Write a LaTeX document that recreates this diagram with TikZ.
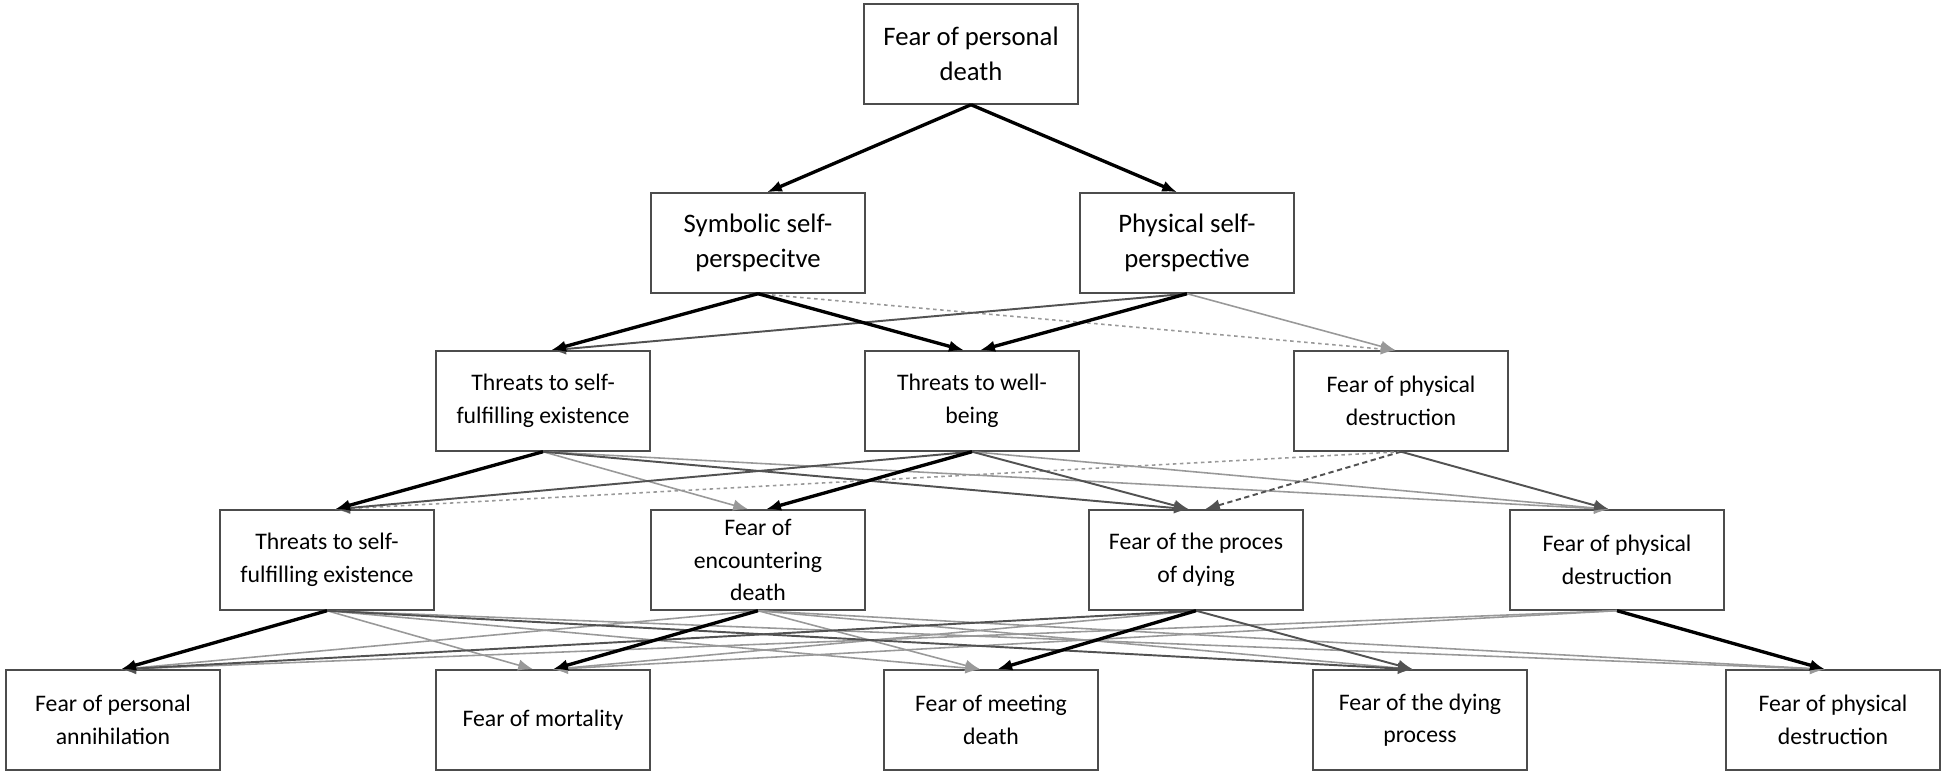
\documentclass[tikz,border=0pt]{standalone}
\usepackage{fontspec}
\setmainfont{Carlito}
\usetikzlibrary{arrows.meta}
\newcommand{\breite}{4.28cm}
\newcommand{\altura}{2cm}

\begin{document}
\begin{tikzpicture}[x=0.2mm,y=-0.2mm]
\tikzstyle{box}=[draw=black!70, line width=0.8pt, fill=white, rectangle, align=center, minimum width=\breite, minimum height=\altura, inner sep=2pt]
\tikzstyle{big}=[box, font=\fontsize{15.2}{20}\selectfont]
\tikzstyle{small}=[box, font=\fontsize{13.5}{18.5}\selectfont]
\tikzstyle{strong}=[-{Latex[length=8.5pt,width=6.5pt]}, line width=1.9pt, black]
\tikzstyle{medium}=[-{Latex[length=8.5pt,width=6.5pt]}, line width=1.1pt, black!68]
\tikzstyle{weak}=[-{Latex[length=8.5pt,width=6.5pt]}, line width=0.9pt, black!40]
\tikzstyle{weakdots}=[weak, dash pattern=on 2pt off 2pt]
\tikzstyle{mediumdots}=[medium, dash pattern=on 3pt off 2pt]
\useasboundingbox (0,0) rectangle (1946,776);

% level 1
\node[big] (personal) at (971,54) {Fear of personal\\death};
% level 2
\node[big] (symbolic) at (758,243) {Symbolic self-\\perspecitve};
\node[big] (physical) at (1187,243) {Physical self-\\perspective};
% level 3
\node[small] (threatsA) at (543,401) {Threats to self-\\fulfilling existence};
\node[small] (wellbeing) at (972,401) {Threats to well-\\being};
\node[small] (destructA) at (1401,401) {Fear of physical\\destruction};
% level 4
\node[small] (threatsB) at (327,560) {Threats to self-\\fulfilling existence};
\node[small] (encounter) at (758,560) {Fear of\\encountering\\death};
\node[small] (process) at (1196,560) {Fear of the proces\\of dying};
\node[small] (destructB) at (1617,560) {Fear of physical\\destruction};
% level 5
\node[small] (annihil) at (113,720) {Fear of personal\\annihilation};
\node[small] (mortal) at (543,720) {Fear of mortality};
\node[small] (meeting) at (991,720) {Fear of meeting\\death};
\node[small] (dying) at (1420,720) {Fear of the dying\\process};
\node[small] (destructC) at (1833,720) {Fear of physical\\destruction};

% level 1 -> level 2
\draw[strong] (personal.south) -- (symbolic.80);
\draw[strong] (personal.south) -- (physical.101);

% level 2 -> level 3
\draw[weakdots] (symbolic.south) -- (destructA.96);
\draw[weak] (physical.south) -- (destructA.96);
\draw[medium] (physical.south) -- (threatsA.81);
\draw[strong] (symbolic.south) -- (threatsA.81);
\draw[strong] (symbolic.south) -- (wellbeing.99);
\draw[strong] (physical.south) -- (wellbeing.81);

% level 3 -> level 4
\draw[weak] (threatsA.south) -- (encounter.101);
\draw[weak] (threatsA.south) -- (destructB.99);
\draw[weak] (wellbeing.south) -- (destructB.99);
\draw[weakdots] (destructA.south) -- (threatsB.81);
\draw[medium] (threatsA.south) -- (process.98);
\draw[medium] (wellbeing.south) -- (threatsB.81);
\draw[medium] (wellbeing.south) -- (process.98);
\draw[mediumdots] (destructA.south) -- (process.80);
\draw[medium] (destructA.south) -- (destructB.99);
\draw[strong] (threatsA.south) -- (threatsB.81);
\draw[strong] (wellbeing.south) -- (encounter.81);

% level 4 -> level 5
\draw[weak] (threatsB.south) -- (mortal.101);
\draw[weak] (threatsB.south) -- (meeting.102);
\draw[weak] (threatsB.south) -- (destructC.99);
\draw[weak] (encounter.south) -- (annihil.81);
\draw[weak] (encounter.south) -- (meeting.102);
\draw[weak] (encounter.south) -- (dying.98);
\draw[weak] (encounter.south) -- (destructC.99);
\draw[weak] (process.south) -- (mortal.79);
\draw[weak] (destructB.south) -- (annihil.81);
\draw[weak] (destructB.south) -- (mortal.79);
\draw[medium] (threatsB.south) -- (dying.98);
\draw[medium] (process.south) -- (annihil.81);
\draw[medium] (process.south) -- (dying.98);
\draw[strong] (threatsB.south) -- (annihil.81);
\draw[strong] (encounter.south) -- (mortal.79);
\draw[strong] (process.south) -- (meeting.83);
\draw[strong] (destructB.south) -- (destructC.99);
\end{tikzpicture}
\end{document}
